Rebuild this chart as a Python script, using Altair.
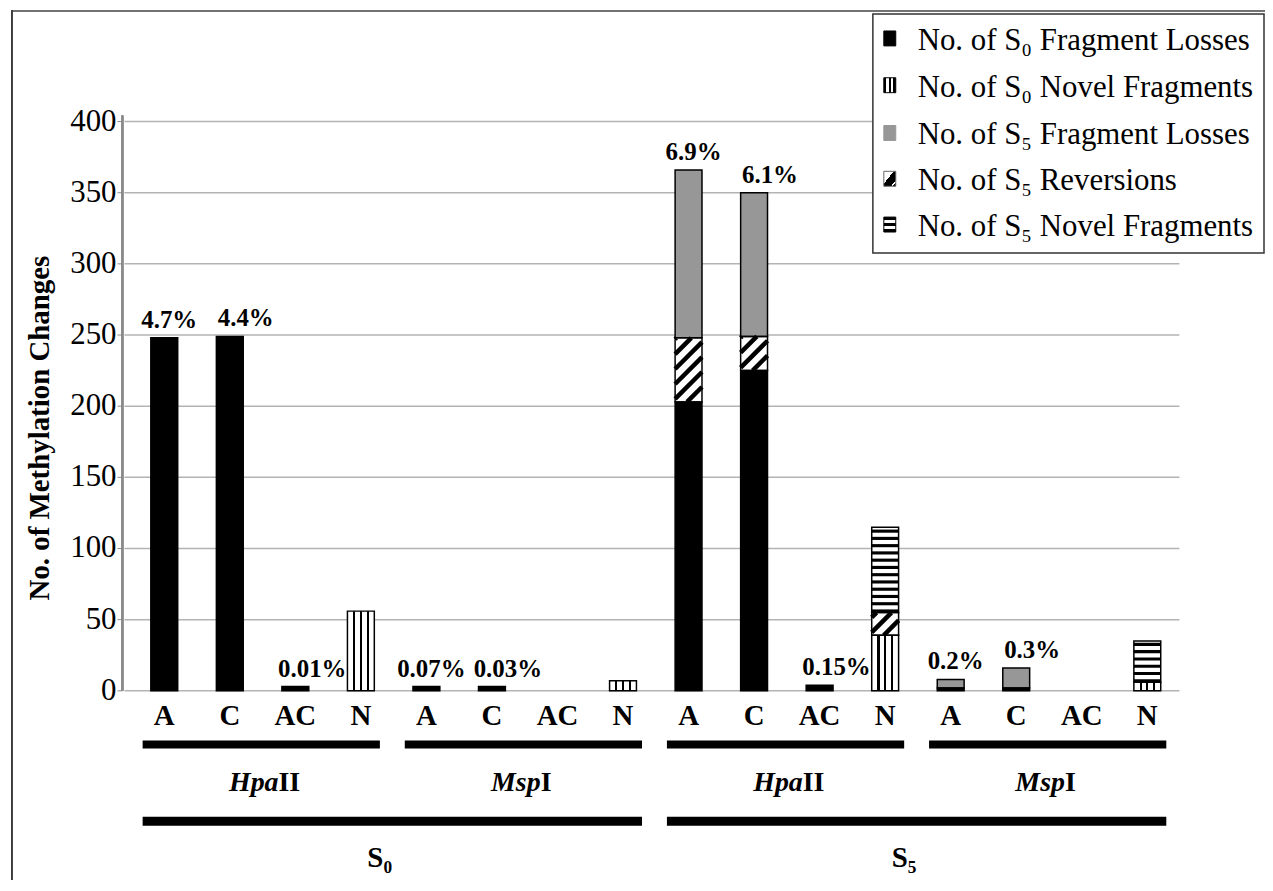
import altair as alt
import pandas as pd

# ---------------- data ----------------
categories = ["A", "C", "AC", "N"] * 4
s0_fragment_losses = [248, 249, 3, 0, 3, 3, 0, 0, 203, 225, 4, 0, 2, 2, 0, 0]
s0_novel_fragments = [0, 0, 0, 56, 0, 0, 0, 7, 0, 0, 0, 39, 0, 0, 0, 6]
s5_reversions = [0, 0, 0, 0, 0, 0, 0, 0, 45, 24, 0, 16, 0, 0, 0, 0]
s5_fragment_losses = [0, 0, 0, 0, 0, 0, 0, 0, 118, 101, 0, 0, 6, 14, 0, 0]
s5_novel_fragments = [0, 0, 0, 0, 0, 0, 0, 0, 0, 0, 0, 60, 0, 0, 0, 29]
percent_labels = ["4.7%", "4.4%", "0.01%", "", "0.07%", "0.03%", "", "",
                  "6.9%", "6.1%", "0.15%", "", "0.2%", "0.3%", "", ""]
enzyme_first_bar = [0, 4, 8, 12]
enzyme_italic = ["Hpa", "Msp", "Hpa", "Msp"]
enzyme_roman = ["II", "I", "II", "I"]
generation_first_bar = [0, 8]
generation_labels = ["S\u2080", "S\u2085"]
series_names = ["No. of S\u2080 Fragment Losses", "No. of S\u2080 Novel Fragments",
                "No. of S\u2085 Fragment Losses", "No. of S\u2085 Reversions",
                "No. of S\u2085 Novel Fragments"]
y_ticks = [0, 50, 100, 150, 200, 250, 300, 350, 400]
y_title = "No. of Methylation Changes"

# ---------------- tables built from the lists ----------------
HALF = 0.205  # half bar width in category units
stack_order = [("s0loss", s0_fragment_losses), ("s0novel", s0_novel_fragments),
               ("s5rev", s5_reversions), ("s5loss", s5_fragment_losses),
               ("s5novel", s5_novel_fragments)]
rows = []
for i in range(len(categories)):
    base = 0
    for key, vals in stack_order:
        v = vals[i]
        if v > 0:
            rows.append(dict(idx=i, series=key, y0=base, y1=base + v,
                             xl=i - HALF, xr=i + HALF))
        base += v
seg = pd.DataFrame(rows)

bars = pd.DataFrame({
    "idx": list(range(len(categories))),
    "cat": categories,
    "label": percent_labels,
})
bars["total"] = [sum(v[i] for _, v in stack_order) for i in range(len(categories))]

enz = pd.DataFrame({"first": enzyme_first_bar, "it": enzyme_italic, "ro": enzyme_roman})
enz["last"] = enz["first"] + 3
enz["start"] = enz["first"] - 0.33
enz["end"] = enz["last"] + 0.29
enz["center"] = (enz["first"] + enz["last"]) / 2

gen = pd.DataFrame({"first": generation_first_bar, "label": generation_labels})
gen["last"] = gen["first"] + 7
gen["start"] = gen["first"] - 0.33
gen["end"] = gen["last"] + 0.29
gen["center"] = (gen["first"] + gen["last"]) / 2

ticks = pd.DataFrame({"v": y_ticks})
ticks["lab"] = ticks["v"].astype(str)

# ---------------- layout constants ----------------
W, H = 1062, 572
FONT = "Liberation Serif"
xs = alt.Scale(domain=[-0.638, 15.49], nice=False, zero=False)
ys = alt.Scale(domain=[0, 400], nice=False, zero=False)
GS = alt.GradientStop


def X(f):
    return alt.X(f, type="quantitative", scale=xs, axis=None)


def X2(f):
    return alt.X2(f)


def Y(f):
    return alt.Y(f, type="quantitative", scale=ys, axis=None)


vert_grad = alt.LinearGradient(gradient="linear", x1=0, y1=0, x2=1, y2=0, stops=[
    GS(color="white", offset=0), GS(color="white", offset=0.21),
    GS(color="black", offset=0.21), GS(color="black", offset=0.29),
    GS(color="white", offset=0.29), GS(color="white", offset=0.46),
    GS(color="black", offset=0.46), GS(color="black", offset=0.54),
    GS(color="white", offset=0.54), GS(color="white", offset=0.71),
    GS(color="black", offset=0.71), GS(color="black", offset=0.79),
    GS(color="white", offset=0.79), GS(color="white", offset=1)])

GRAY = "#979797"
AXGRAY = "#8a8a8a"

# ---- y axis drawn from the tick list ----
grid = alt.Chart(ticks).mark_rule(color="#b3b3b3", strokeWidth=1.5).encode(
    y=Y("v"), x=alt.value(2), x2=alt.value(W))
tickmarks = alt.Chart(ticks).mark_rule(color=AXGRAY, strokeWidth=1).encode(
    y=Y("v"), x=alt.value(-5), x2=alt.value(0))
ticklabels = alt.Chart(ticks).mark_text(
    font=FONT, fontSize=31, color="black", align="right", baseline="middle", dx=-6).encode(
    y=Y("v"), x=alt.value(0), text="lab:N")
domain_line = alt.Chart(ticks).mark_rule(color=AXGRAY, strokeWidth=1.5).encode(
    x=alt.value(0), y=alt.value(-6), y2=alt.value(H))
ytitle = alt.Chart(pd.DataFrame({"t": [y_title]})).mark_text(
    font=FONT, fontSize=29, fontWeight="bold", color="black", angle=270,
    align="center", baseline="middle").encode(
    x=alt.value(-83), y=alt.value(308), text="t:N")

# ---- bars ----
black_layer = alt.Chart(seg).transform_filter("datum.series == 's0loss'").mark_bar(
    color="black").encode(x=X("xl"), x2=X2("xr"), y=Y("y0"), y2=alt.Y2("y1"))

vert_layer = alt.Chart(seg).transform_filter("datum.series == 's0novel'").mark_bar(
    fill=vert_grad).encode(x=X("xl"), x2=X2("xr"), y=Y("y0"), y2=alt.Y2("y1"))

gray_layer = alt.Chart(seg).transform_filter("datum.series == 's5loss'").mark_bar(
    fill=GRAY).encode(x=X("xl"), x2=X2("xr"), y=Y("y0"), y2=alt.Y2("y1"))

white_base = alt.Chart(seg).transform_filter(
    "datum.series == 's5rev' || datum.series == 's5novel'").mark_bar(
    fill="white").encode(x=X("xl"), x2=X2("xr"), y=Y("y0"), y2=alt.Y2("y1"))

# diagonal hatch for reversions, 45 degrees
HR = 18.9   # rise (y units) across one bar width
BW = 2 * HALF
hatch = alt.Chart(seg).transform_filter("datum.series == 's5rev'").transform_calculate(
    c=f"sequence(datum.y0 - {HR}, datum.y1, 10.5)").transform_flatten(["c"]).transform_calculate(
    ys="max(datum.y0, datum.c)",
    ye=f"min(datum.y1, datum.c + {HR})").transform_calculate(
    hx0=f"datum.xl + (datum.ys - datum.c) / {HR} * {BW}",
    hx1=f"datum.xl + (datum.ye - datum.c) / {HR} * {BW}").transform_filter(
    "datum.hx1 > datum.hx0 + 0.01").mark_rule(
    color="black", strokeWidth=4.5, strokeCap="butt").encode(
    x=X("hx0"), x2=X2("hx1"), y=Y("ys"), y2=alt.Y2("ye"))

# horizontal stripes for S5 novel fragments
hstripes = alt.Chart(seg).transform_filter("datum.series == 's5novel'").transform_calculate(
    s="sequence(datum.y0, datum.y1, 5.1)").transform_flatten(["s"]).transform_calculate(
    s2="min(datum.s + 2.2, datum.y1)").mark_bar(color="black").encode(
    x=X("xl"), x2=X2("xr"), y=Y("s"), y2=alt.Y2("s2"))

outline = alt.Chart(seg).mark_bar(fillOpacity=0, stroke="black", strokeWidth=1.5).encode(
    x=X("xl"), x2=X2("xr"), y=Y("y0"), y2=alt.Y2("y1"))

# percentage labels (small horizontal nudge per category)
pct_layers = []
for cat, dx in [("A", 5), ("C", 16), ("AC", 17)]:
    pct_layers.append(alt.Chart(bars).transform_filter(
        f"datum.label != '' && datum.cat == '{cat}'").mark_text(
        font=FONT, fontSize=25, fontWeight="bold", color="black", baseline="alphabetic",
        dy=-10, dx=dx).encode(x=X("idx"), y=Y("total"), text="label:N"))

cat_text = alt.Chart(bars).mark_text(
    font=FONT, fontSize=29, fontWeight="bold", color="black", baseline="middle").encode(
    x=X("idx"), y=alt.value(597), text="cat:N")

enz_lines = alt.Chart(enz).mark_rule(color="black", strokeWidth=8, strokeCap="butt").encode(
    x=X("start"), x2=X2("end"), y=alt.value(626))
enz_it = alt.Chart(enz).mark_text(
    font=FONT, fontSize=28, fontWeight="bold", fontStyle="italic", color="black",
    baseline="middle", align="right", dx=16).encode(
    x=X("center"), y=alt.value(665), text="it:N")
enz_ro = alt.Chart(enz).mark_text(
    font=FONT, fontSize=28, fontWeight="bold", color="black",
    baseline="middle", align="left", dx=16).encode(
    x=X("center"), y=alt.value(665), text="ro:N")

gen_lines = alt.Chart(gen).mark_rule(color="black", strokeWidth=9, strokeCap="butt").encode(
    x=X("start"), x2=X2("end"), y=alt.value(703))
gen_text = alt.Chart(gen).mark_text(
    font=FONT, fontSize=29, fontWeight="bold", color="black", baseline="middle", dx=-14).encode(
    x=X("center"), y=alt.value(740), text="label:N")

# frame lines
one = pd.DataFrame({"k": [0]})
frame_left = alt.Chart(one).mark_rule(color="black", strokeWidth=1.5).encode(
    x=alt.value(-111), y=alt.value(-112), y2=alt.value(H + 190))
frame_top = alt.Chart(one).mark_rule(color="#444", strokeWidth=1.5).encode(
    x=alt.value(-111), x2=alt.value(W + 86), y=alt.value(-111))

# legend
legend_box = alt.Chart(one).mark_rect(
    fill="white", stroke="#333333", strokeWidth=1.5).encode(
    x=alt.value(754), x2=alt.value(1147), y=alt.value(-108), y2=alt.value(132))

leg_fills = [
    "black",
    alt.LinearGradient(gradient="linear", x1=0, y1=0, x2=1, y2=0, stops=[
        GS(color="black", offset=0), GS(color="black", offset=0.22),
        GS(color="white", offset=0.22), GS(color="white", offset=0.4),
        GS(color="black", offset=0.4), GS(color="black", offset=0.6),
        GS(color="white", offset=0.6), GS(color="white", offset=0.78),
        GS(color="black", offset=0.78), GS(color="black", offset=1)]),
    GRAY,
    alt.LinearGradient(gradient="linear", x1=0, y1=0, x2=1, y2=1, stops=[
        GS(color="white", offset=0), GS(color="white", offset=0.42),
        GS(color="black", offset=0.42), GS(color="black", offset=0.8),
        GS(color="white", offset=0.8), GS(color="white", offset=0.88),
        GS(color="black", offset=0.88), GS(color="black", offset=1)]),
    alt.LinearGradient(gradient="linear", x1=0, y1=0, x2=0, y2=1, stops=[
        GS(color="black", offset=0), GS(color="black", offset=0.2),
        GS(color="white", offset=0.2), GS(color="white", offset=0.4),
        GS(color="black", offset=0.4), GS(color="black", offset=0.6),
        GS(color="white", offset=0.6), GS(color="white", offset=0.8),
        GS(color="black", offset=0.8), GS(color="black", offset=1)]),
]
leg_strokes = ["black", "black", GRAY, "#666666", "black"]
row_y = [-83, -36, 12, 58, 104]
legend_layers = []
for name, fill, stroke, cy in zip(series_names, leg_fills, leg_strokes, row_y):
    d = pd.DataFrame({"name": [name]})
    legend_layers.append(alt.Chart(d).mark_rect(fill=fill, stroke=stroke, strokeWidth=1).encode(
        x=alt.value(765), x2=alt.value(777), y=alt.value(cy - 8), y2=alt.value(cy + 7)))
    legend_layers.append(alt.Chart(d).mark_text(
        font=FONT, fontSize=31, color="black", align="left", baseline="middle").encode(
        x=alt.value(799), y=alt.value(cy + 2), text="name:N"))

chart = alt.layer(
    grid, tickmarks, ticklabels, domain_line, ytitle,
    black_layer, vert_layer, gray_layer, white_base, hatch, hstripes, outline,
    *pct_layers, cat_text, enz_lines, enz_it, enz_ro, gen_lines, gen_text,
    frame_left, frame_top, legend_box, *legend_layers
).properties(
    width=W, height=H,
    autosize=alt.AutoSizeParams(type="none"),
    padding={"left": 115, "top": 112, "right": 86, "bottom": 190},
    background="white",
).configure_view(strokeWidth=0)

chart.save("out.html", embed_options={"renderer": "svg", "actions": False})
